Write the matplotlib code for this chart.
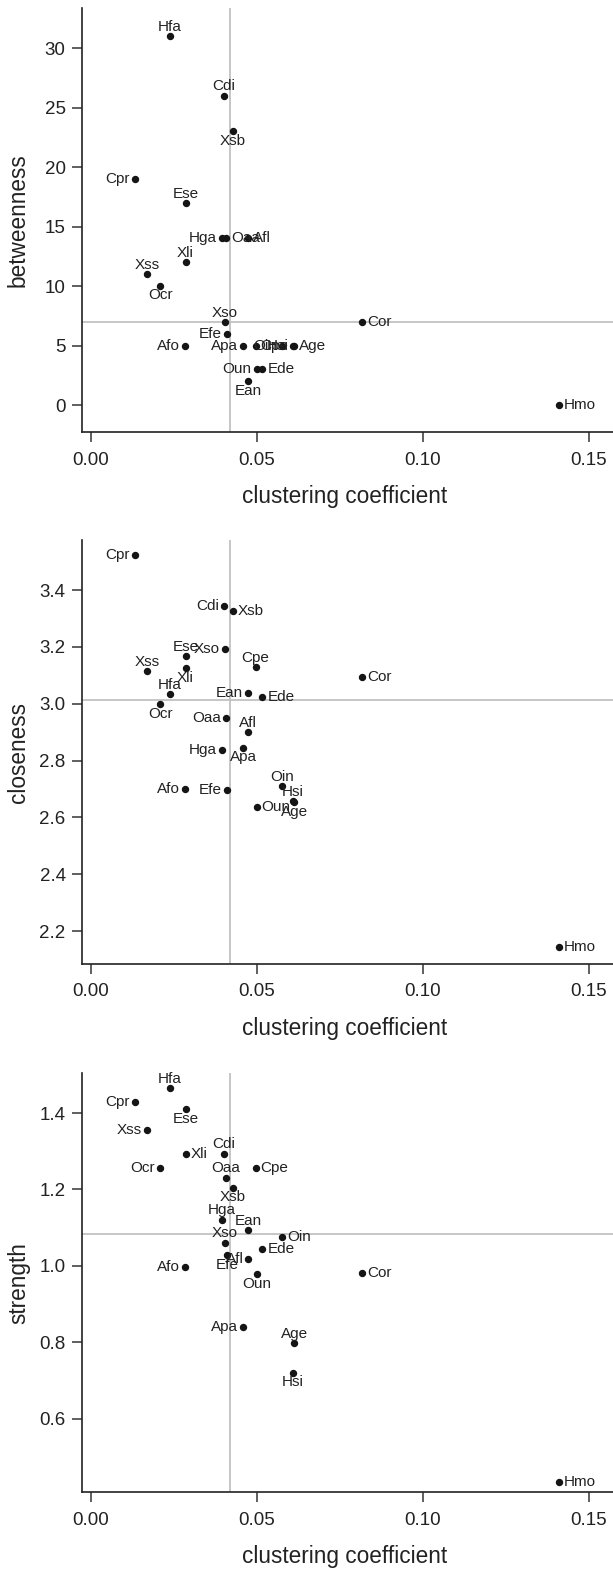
import numpy as np
import matplotlib.pyplot as plt

plt.rcParams['font.family'] = ['Liberation Sans', 'DejaVu Sans']

# species and their network measures
species = ["Hfa", "Cdi", "Xsb", "Cpr", "Ese", "Hga", "Oaa", "Afl", "Xli", "Xss", "Ocr", "Xso",
           "Efe", "Cor", "Afo", "Apa", "Oin", "Cpe", "Hsi", "Age", "Oun", "Ede", "Ean", "Hmo"]
clustering = [0.0239, 0.0402, 0.0428, 0.0133, 0.0286, 0.0395, 0.0408, 0.0475, 0.0286, 0.0169, 0.0210, 0.0405,
              0.0410, 0.0818, 0.0284, 0.0460, 0.0576, 0.0497, 0.0610, 0.0613, 0.0500, 0.0517, 0.0475, 0.1411]
betweenness = [31, 26, 23, 19, 17, 14, 14, 14, 12, 11, 10, 7,
               6, 7, 5, 5, 5, 5, 5, 5, 3, 3, 2, 0]
closeness = [3.033, 3.344, 3.327, 3.524, 3.169, 2.836, 2.949, 2.901, 3.125, 3.115, 2.998, 3.192,
             2.696, 3.095, 2.700, 2.846, 2.711, 3.130, 2.658, 2.654, 2.635, 3.025, 3.039, 2.144]
strength = [1.465, 1.294, 1.205, 1.429, 1.410, 1.121, 1.231, 1.018, 1.292, 1.355, 1.255, 1.061,
            1.028, 0.980, 0.996, 0.839, 1.076, 1.255, 0.720, 0.797, 0.978, 1.044, 1.093, 0.433]

# which side of the point each label sits on (a=above, b=below, l=left, r=right)
side_btw = ["a", "a", "b", "l", "a", "l", "r", "r", "a", "a", "b", "a",
            "l", "r", "l", "l", "l", "r", "l", "r", "l", "r", "b", "r"]
side_clo = ["a", "l", "r", "l", "a", "l", "l", "a", "b", "a", "b", "l",
            "l", "r", "l", "b", "a", "a", "a", "b", "r", "r", "l", "r"]
side_str = ["a", "a", "b", "l", "b", "a", "a", "l", "r", "l", "l", "a",
            "b", "r", "l", "l", "r", "r", "b", "a", "b", "r", "a", "r"]

W, H = 613, 1569
fig = plt.figure(figsize=(W / 100, H / 100), dpi=100)

X0 = 82.3  # left spine, px
XLIM = (-0.0025, 0.1573)

panels = [
    # measure, ylabel, label sides, top px, bottom px, ylim, yticks, fmt
    (betweenness, "betweenness", side_btw, 8.3, 432.3, (-2.29, 33.34), np.arange(0, 31, 5), "{:.0f}"),
    (closeness, "closeness", side_clo, 540.4, 964.0, (2.084, 3.575), np.arange(2.2, 3.41, 0.2), "{:.1f}"),
    (strength, "strength", side_str, 1073.3, 1492.3, (0.407, 1.504), np.arange(0.6, 1.41, 0.2), "{:.1f}"),
]

OFF = {"a": (0, 6.6, "center", "center"),
       "b": (0, -6.8, "center", "center"),
       "l": (-3.6, 0, "right", "center"),
       "r": (3.6, 0, "left", "center")}

for values, ylabel, sides, top, bot, ylim, yticks, fmt in panels:
    ax = fig.add_axes([X0 / W, 1 - bot / H, (W - X0) / W, (bot - top) / H])
    ax.set_xlim(*XLIM)
    ax.set_ylim(*ylim)
    for s in ["top", "right"]:
        ax.spines[s].set_visible(False)
    for s in ["left", "bottom"]:
        ax.spines[s].set_linewidth(1.2)
        ax.spines[s].set_color("#222222")

    ax.axvline(np.median(clustering), color="#c2c2c2", lw=1.3, zorder=1)
    ax.axhline(np.median(values), color="#c2c2c2", lw=1.3, zorder=1)

    ax.plot(clustering, values, "o", color="#151515", ms=4.3, zorder=3, clip_on=False)
    for name, x, y, sd in zip(species, clustering, values, sides):
        dx, dy, ha, va = OFF[sd]
        ax.annotate(name, (x, y), xytext=(dx, dy), textcoords="offset points",
                    ha=ha, va=va, fontsize=11, color="#222222", zorder=4)

    ax.set_xticks([0, 0.05, 0.10, 0.15])
    ax.set_xticklabels(["0.00", "0.05", "0.10", "0.15"])
    ax.set_yticks(yticks)
    ax.set_yticklabels([fmt.format(v) for v in yticks])
    ax.tick_params(axis="both", length=7, width=1.2, color="#444444",
                   labelsize=13.5, labelcolor="#222222")
    ax.tick_params(axis="x", pad=7)
    ax.tick_params(axis="y", pad=5)

    fig.text(18.5 / W, 1 - (top + bot) / 2 / H, ylabel, rotation=90, ha="center", va="center",
             fontsize=16.3, color="#222222")
    fig.text(345 / W, 1 - (bot + 64) / H, "clustering coefficient", ha="center", va="center",
             fontsize=16.3, color="#222222")

fig.savefig("out.png", dpi=100)
